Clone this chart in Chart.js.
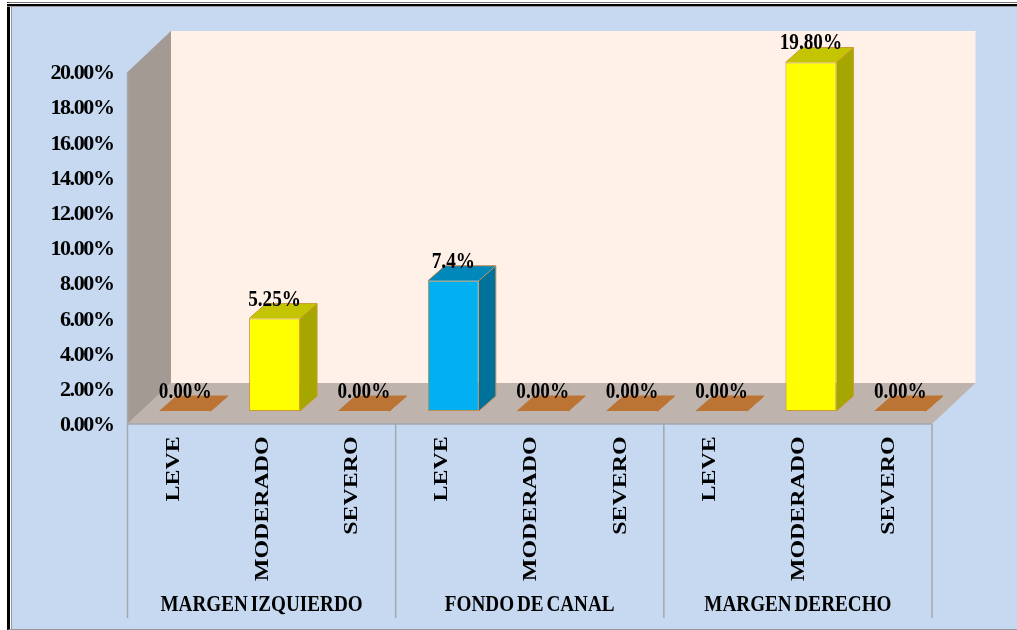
<!DOCTYPE html>
<html lang="es">
<head>
  <meta charset="UTF-8">
  <title>Fallas por tramo</title>
  <style>
    html, body {
      margin: 0;
      padding: 0;
      background: #fff;
    }

    .frame {
      position: absolute;
      left: 7px;
      top: 2px;
      width: 1010px;
      height: 628px;
      box-sizing: border-box;
      background: #c6d9f1;
      border-top: 1px solid #777;
      border-left: 3px solid #000;
      border-bottom: 1px solid #999;
      box-shadow: inset 1px 0 0 #fff, inset 2px 0 0 #999;
    }

    .topline {
      position: absolute;
      left: 7px;
      top: 3px;
      width: 1010px;
      height: 1px;
      background: #fff;
      border-bottom: 2px solid #000;
      box-shadow: 0 1px 0 #999;
    }

    .chart-box {
      position: absolute;
      left: 0;
      top: 0;
      width: 1017px;
      height: 630px;
    }
  </style>
  <script src="https://cdn.jsdelivr.net/npm/chart.js"></script>
</head>
<body>
  <div class="frame"></div>
  <div class="topline"></div>
  <div class="chart-box"><canvas id="chart"></canvas></div>

  <script>
    const levels = ['LEVE', 'MODERADO', 'SEVERO', 'LEVE', 'MODERADO', 'SEVERO', 'LEVE', 'MODERADO', 'SEVERO'];
    const groups = ['MARGEN IZQUIERDO', 'FONDO DE CANAL', 'MARGEN DERECHO'];
    const values = [0, 5.25, 0, 7.4, 0, 0, 0, 19.8, 0];
    const valueLabels = ['0.00%', '5.25%', '0.00%', '7.4%', '0.00%', '0.00%', '0.00%', '19.80%', '0.00%'];
    const yTicksMax = 20;
    const yTickStep = 2;

    const SERIF = "'Liberation Serif', 'Times New Roman', serif";

    // 3D look: wall depth, bar depth and how far bars sit in from the front edge
    const wall = { dx: 43.5, dy: -41 };
    const barDepth = { dx: 17, dy: -15 };
    const barShift = { dx: 13, dy: -13 };

    // the reference picture is stretched vertically, text included
    const textStretch = 1.2;
    const xTickStretch = 1.24;

    function faceColors(i) {
      if (values[i] === 0) return { front: '#bc7434', top: '#bc7434', side: '#bc7434', line: '#bc7434' };
      if (levels[i] === 'LEVE') return { front: '#00b0f0', top: '#0088ba', side: '#00719b', line: '#c08a50' };
      return { front: '#ffff00', top: '#c4c400', side: '#a6a600', line: '#cc9a2e' };
    }

    function poly(ctx, pts, fill) {
      ctx.beginPath();
      pts.forEach((p, i) => i ? ctx.lineTo(p[0], p[1]) : ctx.moveTo(p[0], p[1]));
      ctx.closePath();
      ctx.fillStyle = fill;
      ctx.fill();
    }

    function tallText(ctx, text, x, y) {
      ctx.save();
      ctx.translate(x, y);
      ctx.scale(1, textStretch);
      ctx.fillText(text, 0, 0);
      ctx.restore();
    }

    const box3d = {
      id: 'box3d',
      beforeDraw(chart) {
        // y tick labels: bigger font pulled together, so they read tall and narrow
        const ctx = chart.ctx;
        ctx.save();
        ctx.translate(0, 1.5);
        ctx.letterSpacing = '-1.4px';
      },
      beforeDatasetsDraw(chart) {
        const ctx = chart.ctx;
        ctx.restore();
        const { left, right, top, bottom } = chart.chartArea;
        const dx = wall.dx, dy = wall.dy;

        // back wall, side wall, floor
        poly(ctx, [[left + dx, top + dy], [right + dx, top + dy], [right + dx, bottom + dy], [left + dx, bottom + dy]], '#fff0e8');
        poly(ctx, [[left, top], [left + dx, top + dy], [left + dx, bottom + dy], [left, bottom]], '#a39a94');
        poly(ctx, [[left, bottom], [right, bottom], [right + dx, bottom + dy], [left + dx, bottom + dy]], '#bfb3ad');

        ctx.strokeStyle = '#a3a8b0';
        ctx.lineWidth = 1.5;
        ctx.beginPath();
        ctx.moveTo(left, top);
        ctx.lineTo(left, bottom);
        ctx.lineTo(right, bottom);
        ctx.stroke();

        // dividers between the groups, running down through the axis labels
        const x = chart.scales.x;
        const step = levels.length / groups.length;
        ctx.beginPath();
        for (let g = 0; g <= groups.length; g++) {
          const px = g === groups.length
            ? x.right
            : x.getPixelForTick(g * step) - (x.getPixelForTick(1) - x.getPixelForTick(0)) / 2;
          ctx.moveTo(px, bottom);
          ctx.lineTo(px, 618);
        }
        ctx.stroke();

        // side and top faces of each bar
        chart.getDatasetMeta(0).data.forEach((bar, i) => {
          const c = faceColors(i);
          const l = bar.x - bar.width / 2 + barShift.dx;
          const r = bar.x + bar.width / 2 + barShift.dx;
          const t = bar.y + barShift.dy;
          const b = bar.base + barShift.dy;
          const ddx = barDepth.dx, ddy = barDepth.dy;
          poly(ctx, [[r, t], [r + ddx, t + ddy], [r + ddx, b + ddy], [r, b]], c.side);
          poly(ctx, [[l, t], [r, t], [r + ddx, t + ddy], [l + ddx, t + ddy]], c.top);
          ctx.strokeStyle = c.line;
          ctx.lineWidth = 1;
          ctx.beginPath();
          ctx.moveTo(l, t);
          ctx.lineTo(l + ddx, t + ddy);
          ctx.lineTo(r + ddx, t + ddy);
          ctx.lineTo(r + ddx, b + ddy);
          ctx.lineTo(r, b);
          ctx.moveTo(r + ddx, t + ddy);
          ctx.lineTo(r, t);
          ctx.stroke();
        });
      },
      beforeDatasetDraw(chart) {
        chart.ctx.save();
        chart.ctx.translate(barShift.dx, barShift.dy);
      },
      afterDatasetDraw(chart) {
        chart.ctx.restore();
      },
      afterDatasetsDraw(chart) {
        const ctx = chart.ctx;
        ctx.save();
        ctx.fillStyle = '#000';
        ctx.font = 'bold 19.2px ' + SERIF;
        ctx.textAlign = 'center';
        ctx.textBaseline = 'middle';
        chart.getDatasetMeta(0).data.forEach((bar, i) => {
          tallText(ctx, valueLabels[i], bar.x + barShift.dx, bar.y + barShift.dy - 19);
        });

        // group names under the level labels
        const x = chart.scales.x;
        const step = levels.length / groups.length;
        ctx.wordSpacing = '-2px';
        groups.forEach((g, n) => {
          tallText(ctx, g, x.getPixelForTick(n * step + (step - 1) / 2), 605);
        });
        ctx.restore();

        // x tick labels sit on a later layer: stretch them down from the axis line
        const y0 = chart.chartArea.bottom;
        ctx.save();
        ctx.translate(1.5, y0);
        ctx.scale(1, xTickStretch);
        ctx.translate(0, -y0);
      },
      afterDraw(chart) {
        chart.ctx.restore();
      }
    };

    new Chart(document.getElementById('chart'), {
      type: 'bar',
      data: {
        labels: levels,
        datasets: [{
          data: values,
          backgroundColor: values.map((v, i) => faceColors(i).front),
          borderColor: values.map((v, i) => faceColors(i).line),
          borderWidth: 1,
          borderSkipped: false,
          barPercentage: 0.57,
          categoryPercentage: 1,
          clip: false
        }]
      },
      options: {
        responsive: true,
        maintainAspectRatio: false,
        animation: false,
        layout: { padding: { left: 0, top: 72, right: 85, bottom: 0 } },
        plugins: {
          legend: { display: false },
          tooltip: { enabled: false }
        },
        scales: {
          x: {
            grid: { display: false, drawTicks: false },
            border: { display: false },
            afterFit(scale) { scale.height = 206; },
            ticks: {
              z: 1,
              autoSkip: false,
              minRotation: 90,
              maxRotation: 90,
              padding: 10,
              color: '#000',
              font: { family: SERIF, size: 19.3, weight: 'bold' }
            }
          },
          y: {
            min: 0,
            max: yTicksMax,
            grid: { display: false, drawTicks: false },
            border: { display: false },
            afterFit(scale) { scale.width = 127.5; },
            ticks: {
              stepSize: yTickStep,
              padding: 14,
              color: '#000',
              font: { family: SERIF, size: 22, weight: 'bold' },
              callback: v => v.toFixed(2) + '%'
            }
          }
        }
      },
      plugins: [box3d]
    });
  </script>
</body>
</html>
